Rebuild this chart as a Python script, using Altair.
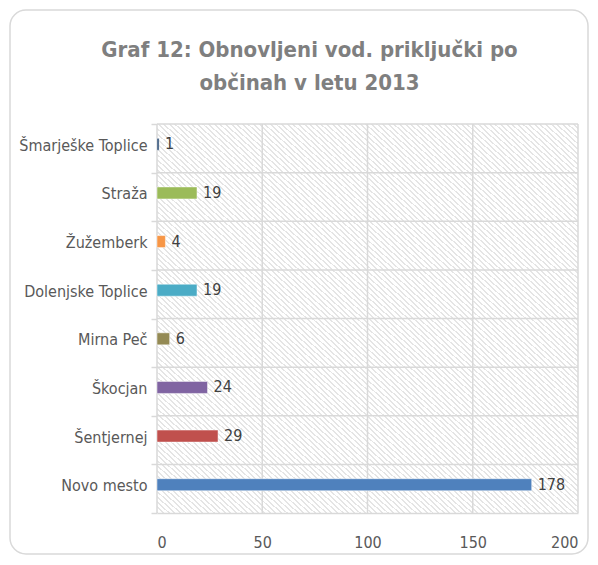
import altair as alt
import pandas as pd

categories = ["Šmarješke Toplice", "Straža", "Žužemberk", "Dolenjske Toplice",
              "Mirna Peč", "Škocjan", "Šentjernej", "Novo mesto"]
values = [1, 19, 4, 19, 6, 24, 29, 178]
colors = ["#2C4D75", "#9BBB59", "#F79646", "#4BACC6",
          "#948A54", "#8064A2", "#C0504D", "#4F81BD"]
x_ticks = [0, 50, 100, 150, 200]
title_lines = ["Graf 12: Obnovljeni vod. priključki po", "občinah v letu 2013"]

df = pd.DataFrame({"obcina": categories, "vrednost": values, "barva": colors})
grid_df = pd.DataFrame({"t": x_ticks})
one = pd.DataFrame({"a": [0]})

W, H = 421, 389
FONT = "DejaVu Sans Condensed"
GRID = "#d9d9d9"

# diagonal hatch via hard-stop gradient
N = 150
stops = []
for i in range(N):
    a, b, c = i / N, (i + 0.35) / N, (i + 1) / N
    stops += [
        {"offset": a, "color": "#e5e5e5"},
        {"offset": b, "color": "#e5e5e5"},
        {"offset": b, "color": "#ffffff"},
        {"offset": c, "color": "#ffffff"},
    ]
hatch = alt.LinearGradient(gradient="linear", x1=0, y1=1, x2=1, y2=0, stops=stops)

border = alt.Chart(one).mark_rect(
    cornerRadius=16, fillOpacity=0, stroke="#d9d9d9", strokeWidth=1.5
).encode(x=alt.value(-147), x2=alt.value(431), y=alt.value(-114), y2=alt.value(430))

bg = alt.Chart(one).mark_rect(fill=hatch).encode(
    x=alt.value(0), x2=alt.value(W), y=alt.value(0), y2=alt.value(H)
)

ycat = alt.Y(
    "obcina:N", sort=categories,
    scale=alt.Scale(paddingInner=0, paddingOuter=0),
    axis=alt.Axis(
        title=None, tickBand="extent", grid=False, ticks=True, tickColor=GRID,
        tickSize=6, tickWidth=1.5, domain=False, labelFont=FONT, labelFontSize=16,
        labelColor="#595959", labelPadding=4, labelOffset=-3,
    ),
)
xq = alt.X(
    "vrednost:Q", scale=alt.Scale(domain=[0, 200]),
    axis=alt.Axis(
        title=None, values=x_ticks, grid=False, ticks=False, domain=True,
        domainColor=GRID, domainWidth=1.5, labelFont=FONT, labelFontSize=16,
        labelColor="#595959", labelPadding=21, zindex=1,
    ),
)

vgrid = alt.Chart(grid_df).mark_rule(color=GRID, strokeWidth=1.5).encode(x="t:Q")
hgrid = alt.Chart(df).mark_rule(color=GRID, strokeWidth=1.5).encode(
    y=alt.Y("obcina:N", sort=categories, bandPosition=0)
)

bars = alt.Chart(df).mark_bar(
    height=12, yOffset=-4, stroke="white", strokeWidth=0.8, strokeOpacity=0.6
).encode(y=ycat, x=xq, color=alt.Color("barva:N", scale=None))

labels = alt.Chart(df).mark_text(
    align="left", baseline="middle", dx=6, yOffset=-4, font=FONT, fontSize=16,
    color="#404040"
).encode(y=alt.Y("obcina:N", sort=categories), x="vrednost:Q", text="vrednost:Q")

chart = alt.layer(border, bg, vgrid, hgrid, bars, labels).properties(
    width=W, height=H,
    autosize=alt.AutoSizeParams(type="none"),
    padding={"left": 149, "top": 116, "right": 12, "bottom": 43},
    title=alt.TitleParams(
        text=title_lines, font=FONT, fontSize=22, fontWeight="bold",
        color="#7f7f7f", anchor="middle", frame="group", dx=-58, offset=-86,
        lineHeight=33, baseline="top",
    ),
).configure_view(strokeWidth=0)

chart.save("out.html", embed_options={"renderer": "svg", "actions": False})
